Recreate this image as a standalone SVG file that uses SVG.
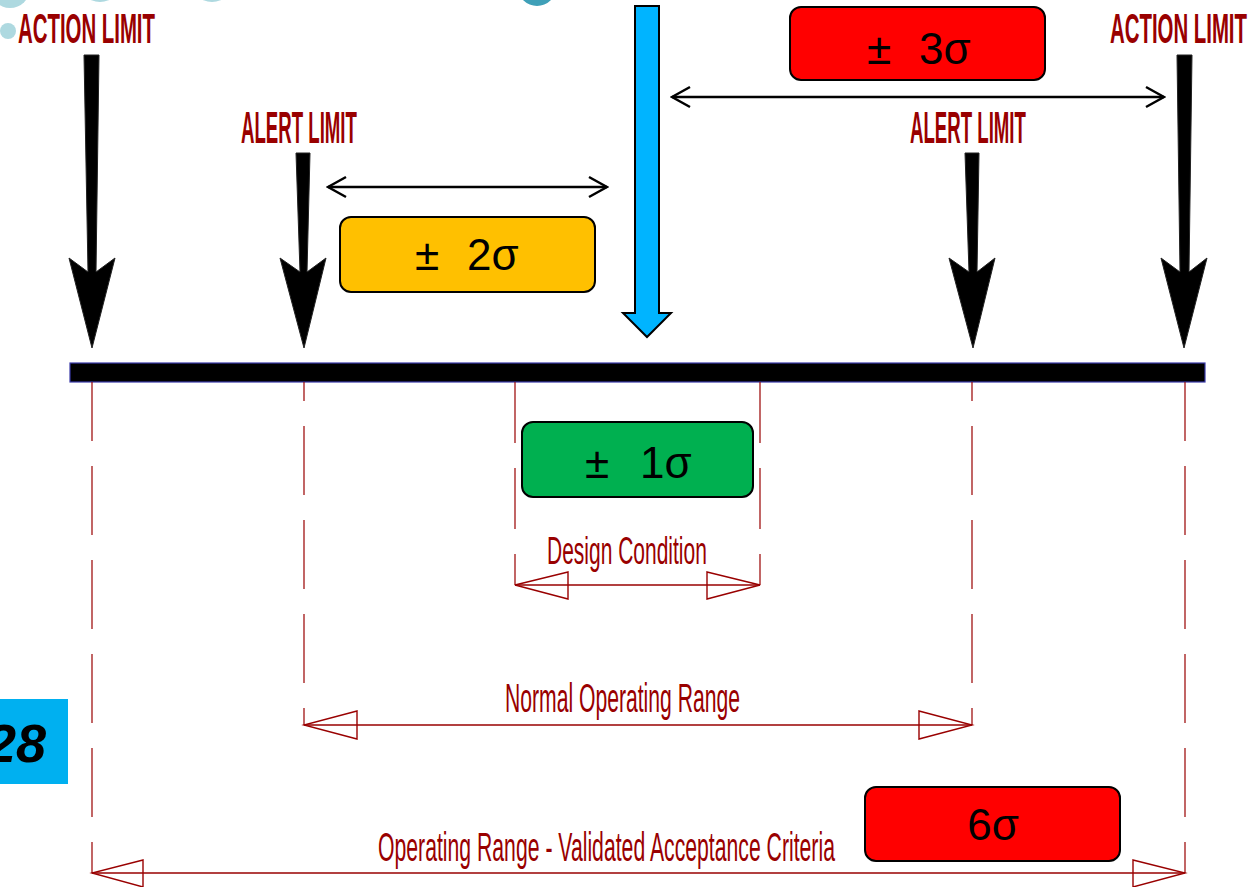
<svg xmlns="http://www.w3.org/2000/svg" width="1258" height="887" viewBox="0 0 1258 887">
<style>
.lim{font-family:"Liberation Sans",Arial,sans-serif;fill:#990000;font-weight:bold;}
.dim{font-family:"Liberation Sans",Arial,sans-serif;fill:#990000;}
.sig{font-family:"Liberation Sans",Arial,sans-serif;fill:#000;font-size:44px;}
.box{stroke:#000;stroke-width:2;}
.barrow{fill:#000;stroke:#222;stroke-width:1;stroke-linejoin:miter;}
.ext{stroke:#990000;stroke-width:1.2;fill:none;}
.dl{stroke:#990000;stroke-width:1.4;fill:none;}
.dh{stroke:#990000;stroke-width:1.4;fill:none;stroke-linejoin:miter;}
.dbl{stroke:#000;stroke-width:2.5;fill:none;}
</style>
<defs>
<marker id="chev" viewBox="-20 -12 22 24" markerWidth="22" markerHeight="24" refX="0" refY="0" orient="auto-start-reverse" markerUnits="userSpaceOnUse">
<path d="M-18,-10 L0,0 L-18,10" fill="none" stroke="#000" stroke-width="2.5"/>
</marker>
</defs>
<rect width="1258" height="887" fill="#fff"/>
<g id="decoration">
<circle cx="10" cy="-12" r="20" fill="#aed9e0"/>
<circle cx="100" cy="-20" r="22" fill="#aed9e0"/>
<circle cx="212" cy="-20" r="22" fill="#aed9e0"/>
<circle cx="537" cy="-13" r="19" fill="#3fa0b8"/>
<circle cx="8" cy="31" r="8" fill="#aed9e0"/>
</g>
<g id="page-number">
<rect x="0" y="699" width="68" height="85" fill="#00b0f0"/>
<text x="46" y="762" text-anchor="end" font-family="Liberation Sans,Arial,sans-serif" font-weight="bold" font-style="italic" font-size="54" fill="#000">28</text>
</g>
<g id="axis">
<rect x="70" y="363" width="1135" height="19" fill="#000" stroke="#3a3aa8" stroke-width="1.2"/>
</g>
<g id="action-limit-left">
<text class="lim" transform="translate(18,43) scale(0.474,1)" font-size="43" textLength="289" lengthAdjust="spacingAndGlyphs">ACTION LIMIT</text>
<path class="barrow" d="M84,55 L99,55 L96,272 L115,258 L92,348 L69,258 L88,272 Z"/>
</g>
<g id="alert-limit-left">
<text class="lim" transform="translate(241,143) scale(0.414,1)" font-size="45" textLength="280" lengthAdjust="spacingAndGlyphs">ALERT LIMIT</text>
<path class="barrow" d="M296,153 L310,153 L307,272 L326,258 L304,348 L280,258 L300,272 Z"/>
</g>
<g id="center-arrow">
<path d="M635,6 L659,6 L659,313 L671,313 L647,337 L623,313 L635,313 Z" fill="#00b4ff" stroke="#000" stroke-width="2"/>
</g>
<g id="alert-limit-right">
<text class="lim" transform="translate(910,143) scale(0.414,1)" font-size="45" textLength="280" lengthAdjust="spacingAndGlyphs">ALERT LIMIT</text>
<path class="barrow" d="M965,153 L979,153 L977,272 L995,258 L973,348 L949,258 L969,272 Z"/>
</g>
<g id="action-limit-right">
<text class="lim" transform="translate(1110,43) scale(0.474,1)" font-size="43" textLength="289" lengthAdjust="spacingAndGlyphs">ACTION LIMIT</text>
<path class="barrow" d="M1177,55 L1192,55 L1189,272 L1207,258 L1184,348 L1161,258 L1180,272 Z"/>
</g>
<g id="box-3sigma">
<rect class="box" x="790" y="7" width="255" height="73" rx="11" fill="#ff0000"/>
<text class="sig" y="64"><tspan x="867">±</tspan><tspan x="919">3σ</tspan></text>
</g>
<g id="box-2sigma">
<rect class="box" x="340" y="217" width="255" height="75" rx="11" fill="#ffc000"/>
<text class="sig" y="270"><tspan x="415">±</tspan><tspan x="467">2σ</tspan></text>
</g>
<g id="box-1sigma">
<rect class="box" x="522" y="422" width="231" height="75" rx="11" fill="#00b050"/>
<text class="sig" y="478"><tspan x="585">±</tspan><tspan x="640">1σ</tspan></text>
</g>
<g id="box-6sigma">
<rect class="box" x="865" y="787" width="255" height="74" rx="11" fill="#ff0000"/>
<text class="sig" x="993" y="840" text-anchor="middle">6σ</text>
</g>
<g id="connectors">
<line class="dbl" x1="672" y1="97" x2="1164" y2="97" marker-start="url(#chev)" marker-end="url(#chev)"/>
<line class="dbl" x1="328" y1="187" x2="607" y2="187" marker-start="url(#chev)" marker-end="url(#chev)"/>
<line class="ext" x1="92" y1="382" x2="92" y2="873" stroke-dasharray="69 25" stroke-dashoffset="10"/>
<line class="ext" x1="1185" y1="382" x2="1185" y2="873" stroke-dasharray="69 25" stroke-dashoffset="10"/>
<line class="ext" x1="304" y1="382" x2="304" y2="725" stroke-dasharray="69 25" stroke-dashoffset="50"/>
<line class="ext" x1="972" y1="382" x2="972" y2="725" stroke-dasharray="69 25" stroke-dashoffset="50"/>
<line class="ext" x1="515" y1="382" x2="515" y2="585" stroke-dasharray="61 25"/>
<line class="ext" x1="760" y1="382" x2="760" y2="585" stroke-dasharray="61 25"/>
<line class="dl" x1="515" y1="585" x2="760" y2="585"/>
<path class="dh" d="M568,572 L515,585 L568,599 Z"/>
<path class="dh" d="M707,572 L760,585 L707,599 Z"/>
<line class="dl" x1="304" y1="725" x2="972" y2="725"/>
<path class="dh" d="M357,711 L304,725 L357,739 Z"/>
<path class="dh" d="M919,711 L972,725 L919,739 Z"/>
<line class="dl" x1="92" y1="873" x2="1185" y2="873"/>
<path class="dh" d="M143,860 L92,873 L143,887 Z"/>
<path class="dh" d="M1133,860 L1185,873 L1133,887 Z"/>
</g>
<g id="dimension-labels">
<text class="dim" transform="translate(547,564) scale(0.553,1)" font-size="38" textLength="289" lengthAdjust="spacingAndGlyphs">Design Condition</text>
<text class="dim" transform="translate(505,712) scale(0.528,1)" font-size="40" textLength="445" lengthAdjust="spacingAndGlyphs">Normal Operating Range</text>
<text class="dim" transform="translate(378,861) scale(0.514,1)" font-size="41" textLength="889" lengthAdjust="spacingAndGlyphs">Operating Range - Validated Acceptance Criteria</text>
</g>
</svg>
